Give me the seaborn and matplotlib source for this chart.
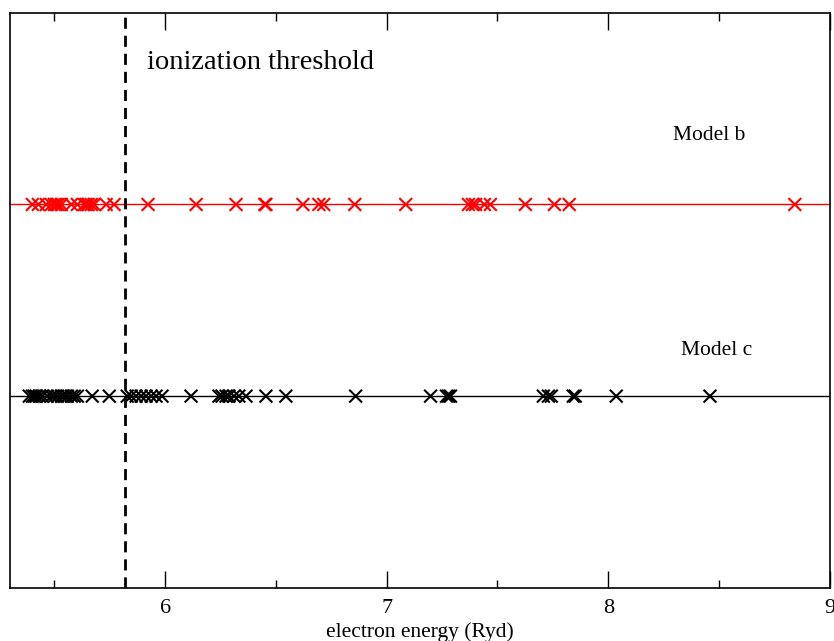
import numpy as np
import pandas as pd
import matplotlib
matplotlib.use("Agg")
import matplotlib.pyplot as plt
from matplotlib.ticker import MultipleLocator
import seaborn as sns

# ── data (electron energies, Ryd) ────────────────────────────────────────────
MODEL_B = [5.401, 5.428, 5.464, 5.486, 5.500, 5.509, 5.518, 5.532, 5.577,
           5.604, 5.635, 5.644, 5.653, 5.667, 5.680, 5.734, 5.770, 5.923,
           6.140, 6.320, 6.450, 6.455, 6.622, 6.694, 6.716, 6.856, 7.086,
           7.369, 7.387, 7.401, 7.441, 7.468, 7.626, 7.757, 7.824, 8.842]
MODEL_C = [5.387, 5.401, 5.410, 5.419, 5.432, 5.446, 5.468, 5.486, 5.500,
           5.514, 5.532, 5.545, 5.559, 5.577, 5.590, 5.604, 5.671, 5.748,
           5.829, 5.847, 5.869, 5.892, 5.914, 5.937, 5.959, 5.986, 6.117,
           6.243, 6.257, 6.275, 6.288, 6.311, 6.333, 6.365, 6.455, 6.545,
           6.860, 7.198, 7.270, 7.279, 7.288, 7.707, 7.730, 7.743, 7.842,
           7.851, 8.036, 8.459]
MODEL_LEVEL = {"Model b": 2, "Model c": 1}
THRESHOLD = 5.82

COLORS = {"Model b": "#ff0000", "Model c": "#000000"}

sns.set_style("ticks", {"axes.edgecolor": "black", "text.color": "black",
                        "xtick.color": "black", "ytick.color": "black",
                        "axes.labelcolor": "black"})
plt.rcParams["font.family"] = ["Liberation Serif", "DejaVu Serif"]

df = pd.concat([
    pd.DataFrame({"energy": MODEL_B, "model": "Model b"}),
    pd.DataFrame({"energy": MODEL_C, "model": "Model c"}),
], ignore_index=True)
df["level"] = df["model"].map(MODEL_LEVEL)

fig = plt.figure(figsize=(8.34, 6.41), dpi=100)
ax = fig.add_axes([0.012, 0.083, 0.983, 0.897])

for name, lvl in MODEL_LEVEL.items():
    ax.axhline(lvl, color=COLORS[name], lw=1.0, zorder=1)

sns.scatterplot(data=df, x="energy", y="level", hue="model", palette=COLORS,
                marker="x", s=85, linewidth=1.5, legend=False, ax=ax, zorder=3)

ax.axvline(THRESHOLD, color="black", lw=2, linestyle=(0, (4, 2.5)), zorder=2)

ax.text(5.92, 2.74, "ionization threshold", fontsize=20.5, va="center", ha="left")
ax.text(8.29, 2.36, "Model b", fontsize=15.5, va="center", ha="left")
ax.text(8.33, 1.24, "Model c", fontsize=15.5, va="center", ha="left")

ax.set_xlim(5.3, 9.0)
ax.set_ylim(0, 3)
ax.xaxis.set_major_locator(MultipleLocator(1))
ax.xaxis.set_minor_locator(MultipleLocator(0.5))
ax.set_yticks([])
ax.tick_params(axis="x", which="both", direction="in", top=True, bottom=True,
               labelsize=16, width=1, pad=8, colors="black")
ax.tick_params(axis="x", which="major", length=12)
ax.tick_params(axis="x", which="minor", length=6)
ax.set_xlabel("electron energy (Ryd)", fontsize=15.5, labelpad=3, color="black")
ax.set_ylabel("")
for sp in ax.spines.values():
    sp.set_linewidth(1.2)
    sp.set_color("black")

fig.savefig("out.png", dpi=100)
